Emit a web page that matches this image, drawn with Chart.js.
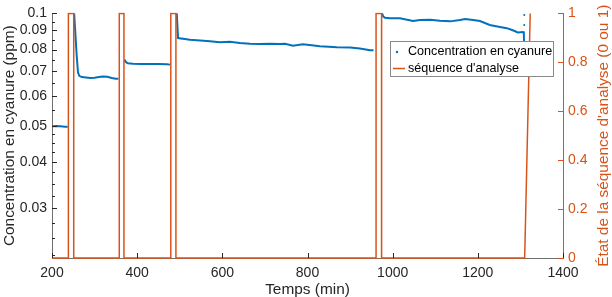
<!DOCTYPE html>
<html>
<head>
<meta charset="utf-8">
<script src="https://cdn.jsdelivr.net/npm/chart.js@4.4.1/dist/chart.umd.min.js"></script>
<style>
  html, body { margin: 0; padding: 0; background: #fff; }
  #wrap { width: 612px; height: 297px; }
</style>
</head>
<body>
<div id="wrap"><canvas id="c" width="612" height="297"></canvas></div>
<script>
/* Concentration en cyanure (axe log, gauche) + séquence d'analyse (0/1, droite) */

// ---------- données ----------
var xTicks = [200, 400, 600, 800, 1000, 1200, 1400];
var ppmTicks = [0.03, 0.04, 0.05, 0.06, 0.07, 0.08, 0.09, 0.1];
var ppmMinor = [0.0225, 0.025, 0.0275, 0.0325, 0.035, 0.0375, 0.0425, 0.045, 0.0475,
  0.055, 0.065, 0.075, 0.085, 0.095];
var stateTicks = [0, 0.2, 0.4, 0.6, 0.8, 1];

// temps (min) / concentration (ppm), null = trou pendant l'analyse
var cyanTime = [200, 210, 220, 230, 237, 245,
  252, 255, 258, 261, 264, 270, 280, 290, 300, 310, 320, 330, 340, 350, 356, 363,
  370, 374, 378, 390, 410, 430, 450, 470, 477, 485,
  493, 496, 524, 548, 571, 594, 618, 641, 665, 688, 712, 735, 747, 766, 789, 810,
  829, 850, 869, 900, 923, 947, 955, 967,
  975, 978, 982, 994, 1017, 1048, 1064, 1088, 1111, 1135, 1158, 1170, 1189, 1205,
  1228, 1252, 1268, 1282, 1294, 1306, 1308, 1309];
var cyanPpm = [0.0498, 0.0499, 0.0498, 0.0497, 0.0497, null,
  0.1, 0.088, 0.077, 0.0695, 0.0680, 0.0675, 0.0673, 0.0671, 0.0672, 0.0675, 0.0677,
  0.0676, 0.0671, 0.0668, 0.0668, null,
  0.0752, 0.0740, 0.0735, 0.0733, 0.0732, 0.0732, 0.0732, 0.0731, 0.0729, null,
  0.1, 0.0859, 0.0850, 0.0846, 0.0842, 0.0837, 0.0840, 0.0833, 0.0829, 0.0828, 0.0829,
  0.0828, 0.0829, 0.0819, 0.0826, 0.0822, 0.0816, 0.0814, 0.0811, 0.0810, 0.0805,
  0.0797, 0.0797, null,
  0.1, 0.098, 0.0974, 0.0970, 0.0970, 0.0954, 0.0960, 0.0962, 0.0956, 0.0952, 0.0960,
  0.0966, 0.0960, 0.0954, 0.0931, 0.0920, 0.0913, 0.0901, 0.0889, 0.0892, 0.0890, 0.076];
// points isolés en fin d'enregistrement
var dotTime = [1309, 1309];
var dotPpm = [0.0931, 0.099];

// séquence d'analyse (0 ou 1)
var seqTime = [200, 238.5, 238.5, 251, 251, 358, 358, 369, 369, 479, 479, 491, 491,
  961, 961, 974, 974, 1310, 1323];
var seqState = [0, 0, 1, 1, 0, 0, 1, 1, 0, 0, 1, 1, 0, 0, 1, 1, 0, 0, 1];

var BLUE = "#0072BD", ORANGE = "#D95319", INK = "#262626", AXIS = "#707070";
var FONT = "'Liberation Sans', Arial, Helvetica, sans-serif";

function pairs(xs, ys) {
  return xs.map(function (x, i) { return { x: x, y: ys[i] }; });
}
function setTicks(list) {
  return function (scale) {
    scale.ticks = list.map(function (v) { return { value: v }; });
  };
}

// ---------- petits dessins à la main : graduations internes, légende, titre droit ----------
var extras = {
  id: "extras",
  afterDraw: function (chart) {
    var ctx = chart.ctx, a = chart.chartArea;
    var sx = chart.scales.x, sy = chart.scales.y, sy2 = chart.scales.y2;
    ctx.save();
    ctx.lineWidth = 1;
    ctx.strokeStyle = INK;
    ctx.beginPath();
    xTicks.forEach(function (v) {
      var px = Math.round(sx.getPixelForValue(v)) + 0.5;
      ctx.moveTo(px, a.bottom); ctx.lineTo(px, a.bottom - 5);
    });
    ppmTicks.forEach(function (v) {
      var py = Math.round(sy.getPixelForValue(v)) + 0.5;
      ctx.moveTo(a.left, py); ctx.lineTo(a.left + 5, py);
    });
    ppmMinor.forEach(function (v) {
      var py = Math.round(sy.getPixelForValue(v)) + 0.5;
      ctx.moveTo(a.left, py); ctx.lineTo(a.left + 3, py);
    });
    ctx.stroke();
    ctx.strokeStyle = ORANGE;
    ctx.beginPath();
    stateTicks.forEach(function (v) {
      var py = Math.round(sy2.getPixelForValue(v)) + 0.5;
      ctx.moveTo(a.right, py); ctx.lineTo(a.right - 5, py);
    });
    ctx.stroke();

    // légende
    ctx.fillStyle = "#fff";
    ctx.fillRect(390.5, 41.5, 163, 35);
    ctx.strokeStyle = "#8a8a8a";
    ctx.strokeRect(390.5, 41.5, 163, 35);
    ctx.fillStyle = BLUE;
    ctx.beginPath(); ctx.arc(397, 52, 1.2, 0, Math.PI * 2); ctx.fill();
    ctx.strokeStyle = ORANGE; ctx.lineWidth = 1.5;
    ctx.beginPath(); ctx.moveTo(393, 68.5); ctx.lineTo(405, 68.5); ctx.stroke();
    ctx.fillStyle = "#000";
    ctx.font = "12.6px " + FONT;
    ctx.textBaseline = "middle";
    ctx.textAlign = "left";
    ctx.fillText("Concentration en cyanure", 408, 52);
    ctx.fillText("séquence d'analyse", 408, 68.5);

    // titre de l'axe droit, lu de bas en haut
    ctx.translate(608, (a.top + a.bottom) / 2);
    ctx.rotate(-Math.PI / 2);
    ctx.fillStyle = ORANGE;
    ctx.font = "15.4px " + FONT;
    ctx.textAlign = "center";
    ctx.textBaseline = "alphabetic";
    ctx.fillText("État de la séquence d'analyse (0 ou 1)", 0, 0);
    ctx.restore();
  }
};

Chart.defaults.font.family = FONT;

new Chart(document.getElementById("c"), {
  type: "line",
  data: {
    datasets: [
      { label: "Concentration en cyanure", data: pairs(cyanTime, cyanPpm), yAxisID: "y",
        borderColor: BLUE, borderWidth: 2, pointRadius: 0, spanGaps: false, clip: 1, order: 2 },
      { label: "points", data: pairs(dotTime, dotPpm), yAxisID: "y", showLine: false,
        pointRadius: 1, pointBackgroundColor: BLUE, pointBorderWidth: 0, clip: 1, order: 2 },
      { label: "séquence d'analyse", data: pairs(seqTime, seqState), yAxisID: "y2",
        borderColor: ORANGE, borderWidth: 1.5, pointRadius: 0, clip: 1, order: 1 }
    ]
  },
  options: {
    responsive: false,
    animation: false,
    layout: { padding: { top: 10, left: 0, right: 0, bottom: 0 } },
    plugins: { legend: { display: false }, tooltip: { enabled: false } },
    scales: {
      x: {
        type: "linear", min: 200, max: 1400,
        afterBuildTicks: setTicks(xTicks),
        afterFit: function (s) { s.height = 39; },
        grid: { drawOnChartArea: false, drawTicks: false },
        border: { display: true, color: AXIS, width: 1 },
        ticks: { color: INK, font: { size: 14 }, padding: 7, maxRotation: 0,
          callback: function (v) { return String(v); } },
        title: { display: true, text: "Temps (min)", color: INK,
          font: { size: 15.4, lineHeight: 1 }, padding: { top: 0, bottom: 0 } }
      },
      y: {
        type: "logarithmic", position: "left", min: 0.0221, max: 0.1,
        afterBuildTicks: setTicks(ppmTicks),
        afterFit: function (s) { s.width = 52; },
        grid: { drawOnChartArea: false, drawTicks: false },
        border: { display: true, color: AXIS, width: 1 },
        ticks: { color: INK, font: { size: 14 }, padding: 5,
          callback: function (v) { return String(v); } },
        title: { display: true, text: "Concentration en cyanure (ppm)", color: INK,
          font: { size: 15.4, lineHeight: 1 }, padding: { top: 2, bottom: 0 } }
      },
      y2: {
        type: "linear", position: "right", min: 0, max: 1,
        afterBuildTicks: setTicks(stateTicks),
        afterFit: function (s) { s.width = 49; },
        grid: { drawOnChartArea: false, drawTicks: false },
        border: { display: true, color: ORANGE, width: 1 },
        ticks: { color: ORANGE, font: { size: 14 }, padding: 5,
          callback: function (v) { return String(v); } }
      }
    }
  },
  plugins: [extras]
});
</script>
</body>
</html>
